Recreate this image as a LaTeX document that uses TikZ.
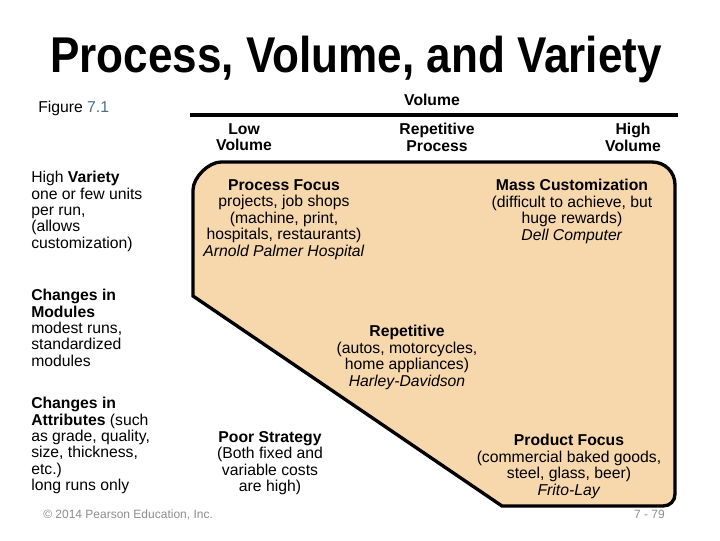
\documentclass[tikz,border=0pt]{standalone}
\usepackage{fontspec}
\setmainfont{Liberation Sans}
\definecolor{peach}{RGB}{247,215,172}
\definecolor{figblue}{RGB}{70,110,140}
\definecolor{footgrey}{RGB}{140,140,140}
\begin{document}
\begin{tikzpicture}[x=0.75pt,y=-0.75pt,
  txt/.style={inner sep=0pt, font=\fontsize{11.8}{12.4}\selectfont, align=center, anchor=north},
  lefttxt/.style={inner sep=0pt, font=\fontsize{11.8}{12.3}\selectfont, align=left, anchor=north west},
  hdr/.style={inner sep=0pt, font=\fontsize{11.8}{12.4}\selectfont\bfseries, align=center, anchor=north},
  foot/.style={inner sep=0pt, font=\fontsize{9}{10}\selectfont, text=footgrey},
  region/.style={draw=black, fill=peach, line width=2.5pt, line join=miter},
  axis/.style={draw=black, line width=2.3pt}]
\useasboundingbox (0,0) rectangle (720,540);

% title
\node[inner sep=0pt, anchor=base] (title) at (356,72)
  {\scalebox{0.877}[1]{\fontsize{37.7}{40}\selectfont\bfseries Process, Volume, and Variety}};

\node[inner sep=0pt, anchor=base west, font=\fontsize{11.8}{12.4}\selectfont] (fig) at (38,112)
  {Figure \textcolor{figblue}{7.1}};

% volume axis
\node[hdr] (vol) at (432,94) {Volume};
\coordinate (axl) at (190,115);
\coordinate (axr) at (678,115);
\draw[axis] (axl) -- (axr);
\node[hdr] (low) at (244,123) {Low\\Volume};
\node[hdr] (rep) at (437,123) {Repetitive\\Process};
\node[hdr] (high) at (633,123) {High\\Volume};

% shaded region
\draw[region] (193,296) -- (193,190)
  .. controls (193,177.5) and (208.5,162) .. (221,162)
  -- (652,162)
  .. controls (665,162) and (675,172) .. (675,185)
  -- (675,494)
  .. controls (675,501) and (670,506) .. (663,506)
  -- (502,506) -- cycle;

% left column
\node[lefttxt] (hv) at (31,171)
  {High \textbf{Variety}\\one or few units\\per run,\\(allows\\customization)};
\node[lefttxt] (cm) at (31,289)
  {\textbf{Changes in}\\\textbf{Modules}\\modest runs,\\standardized\\modules};
\node[lefttxt] (ca) at (31,397)
  {\textbf{Changes in}\\\textbf{Attributes} (such\\as grade, quality,\\size, thickness,\\etc.)\\long runs only};

% region texts
\node[txt] (pf) at (284,179)
  {\textbf{Process Focus}\\projects, job shops\\(machine, print,\\hospitals, restaurants)\\\textit{Arnold Palmer Hospital}};
\node[txt] (mc) at (572,179)
  {\textbf{Mass Customization}\\(difficult to achieve, but\\huge rewards)\\\textit{Dell Computer}};
\node[txt] (rp) at (407,325)
  {\textbf{Repetitive}\\(autos, motorcycles,\\home appliances)\\\textit{Harley-Davidson}};
\node[txt] (ps) at (270,431)
  {\textbf{Poor Strategy}\\(Both fixed and\\variable costs\\are high)};
\node[txt] (prf) at (569,434)
  {\textbf{Product Focus}\\(commercial baked goods,\\steel, glass, beer)\\\textit{Frito-Lay}};

% footer
\node[foot, anchor=base west] (copy) at (43,518) {© 2014 Pearson Education, Inc.};
\node[foot, anchor=base east] (page) at (665,518) {7 - 79};
\end{tikzpicture}
\end{document}
